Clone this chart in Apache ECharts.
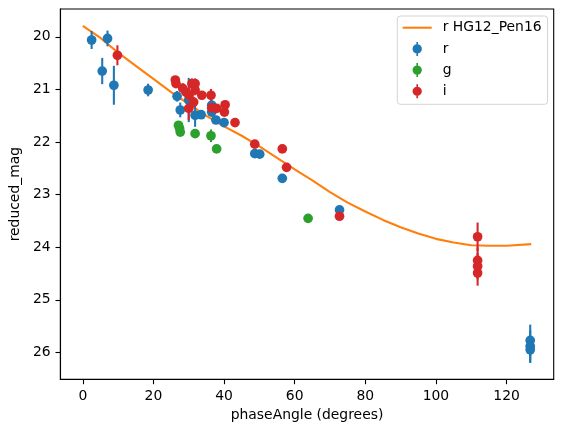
<!DOCTYPE html>
<html>
<head>
<meta charset="utf-8">
<script src="https://cdn.jsdelivr.net/npm/echarts@6/dist/echarts.min.js"></script>
<style>
html,body{margin:0;padding:0;background:#fff;}
#chart{width:563px;height:432px;}
</style>
</head>
<body>
<div id="chart"></div>
<script>
// ---- data ----
const xTicks = [0, 20, 40, 60, 80, 100, 120];
const yTicks = [20, 21, 22, 23, 24, 25, 26];

// model curve "r HG12_Pen16"
const curvePhase = [0, 5, 10, 15, 20, 25, 30, 35, 40, 45, 50, 55, 60, 65, 70, 75, 80, 85, 90, 95, 100, 105, 110, 115, 120, 127];
const curveMag   = [19.79, 20.02, 20.30, 20.55, 20.80, 21.05, 21.28, 21.50, 21.70, 21.88, 22.08, 22.30, 22.52, 22.73, 22.95, 23.15, 23.32, 23.48, 23.62, 23.74, 23.84, 23.91, 23.96, 23.97, 23.97, 23.94];

// r band
const rPhase = [2.5, 5.5, 7.0, 8.8, 18.5, 26.7, 27.6, 30.0, 31.8, 33.5, 36.5, 36.5, 37.7, 40.0, 48.7, 50.1, 56.5, 72.7, 126.7, 126.7, 126.7];
const rMag   = [20.06, 20.65, 20.03, 20.92, 21.01, 21.13, 21.39, 21.20, 21.49, 21.48, 21.30, 21.43, 21.58, 21.63, 22.22, 22.23, 22.69, 23.29, 25.77, 25.88, 25.95];
const rErr   = [0.17, 0.25, 0.15, 0.37, 0.12, 0.10, 0.14, 0.42, 0.22, 0.05, 0.10, 0.08, 0.06, 0.06, 0.05, 0.05, 0.05, 0.05, 0.30, 0.30, 0.25];

// g band
const gPhase = [27.1, 27.4, 27.6, 31.8, 36.3, 37.9, 63.8];
const gMag   = [21.68, 21.74, 21.81, 21.84, 21.88, 22.13, 23.45];
const gErr   = [0.06, 0.06, 0.06, 0.06, 0.12, 0.05, 0.05];

// i band
const iPhase = [9.8, 26.2, 26.4, 28.3, 29.2, 30.1, 30.0, 30.9, 31.4, 31.8, 31.8, 33.7, 36.3, 36.5, 37.9, 40.1, 40.3, 43.1, 48.7, 56.5, 57.7, 72.7, 111.8, 111.8, 111.8, 111.8];
const iMag   = [20.35, 20.82, 20.89, 20.98, 21.05, 21.11, 21.36, 20.89, 21.24, 20.89, 21.01, 21.11, 21.11, 21.35, 21.36, 21.43, 21.29, 21.63, 22.04, 22.13, 22.48, 23.41, 23.80, 24.25, 24.36, 24.49];
const iErr   = [0.19, 0.06, 0.06, 0.10, 0.10, 0.15, 0.22, 0.10, 0.10, 0.10, 0.10, 0.08, 0.12, 0.05, 0.05, 0.05, 0.05, 0.05, 0.05, 0.05, 0.05, 0.05, 0.27, 0.25, 0.25, 0.24];

// ---- build ----
const C = {orange:'#ff7f0e', blue:'#1f77b4', green:'#2ca02c', red:'#d62728'};
const FONT = 'DejaVu Sans';
const LW = 2.08;

function zip3(a, b, c) { return a.map((v, k) => [v, b[k], c[k]]); }

function errSeries(name, color, data) {
  return {
    name: name, type: 'custom', data: data, encode: {x: 0, y: 1}, z: 2,
    silent: true,
    renderItem: function (params, api) {
      const x = api.value(0), y = api.value(1), e = api.value(2);
      const p1 = api.coord([x, y - e]);
      const p2 = api.coord([x, y + e]);
      return {type: 'line', shape: {x1: p1[0], y1: p1[1], x2: p2[0], y2: p2[1]},
              style: {stroke: color, lineWidth: LW}};
    }
  };
}
function ptSeries(name, color, data) {
  return {
    name: name, type: 'scatter', data: data, encode: {x: 0, y: 1}, z: 2,
    symbol: 'circle', symbolSize: 9.7, itemStyle: {color: color, opacity: 1}
  };
}

const curveData = curvePhase.map((v, k) => [v, curveMag[k]]);
const rData = zip3(rPhase, rMag, rErr);
const gData = zip3(gPhase, gMag, gErr);
const iData = zip3(iPhase, iMag, iErr);

const errIcon = 'path://M4.3,0h1.4v12h-1.4z M1,6a4,4 0 1,1 8,0a4,4 0 1,1 -8,0z';
const lineIcon = 'path://M0,0h29v2.08h-29z';

const axisText = {color: '#000', fontFamily: FONT, fontSize: 13.9};

const option = {
  animation: false,
  backgroundColor: '#fff',
  textStyle: {fontFamily: FONT},
  grid: {left: 57.3, right: 9.3, top: 9, bottom: 52.7, show: true,
         borderColor: '#000', borderWidth: 1.1, backgroundColor: 'transparent'},
  legend: {
    orient: 'vertical', left: 397.3, top: 16,
    padding: [4.7, 6, 6, 5.4],
    itemWidth: 29, itemHeight: 14, itemGap: 7.2,
    borderColor: '#d4d4d4', borderWidth: 1, borderRadius: 3,
    backgroundColor: 'rgba(255,255,255,0.8)',
    textStyle: {color: '#000', fontFamily: FONT, fontSize: 13.9, padding: [0, 0, 0, 6]},
    data: [
      {name: 'r HG12_Pen16', icon: lineIcon, itemStyle: {color: C.orange}},
      {name: 'r', icon: errIcon, itemStyle: {color: C.blue}},
      {name: 'g', icon: errIcon, itemStyle: {color: C.green}},
      {name: 'i', icon: errIcon, itemStyle: {color: C.red}}
    ]
  },
  xAxis: {
    type: 'value', min: -6.35, max: 133.35,
    name: 'phaseAngle (degrees)', nameLocation: 'middle', nameGap: 29,
    nameTextStyle: axisText,
    axisLine: {show: true, onZero: false, lineStyle: {color: '#000', width: 1.1}},
    axisTick: {show: true, length: 4.9, lineStyle: {color: '#000', width: 1.1}, customValues: xTicks},
    axisLabel: {margin: 9.8, ...axisText, customValues: xTicks},
    splitLine: {show: false}
  },
  yAxis: {
    type: 'value', inverse: true, min: 19.47, max: 26.51,
    name: 'reduced_mag', nameLocation: 'middle', nameGap: 27.5, nameRotate: 90,
    nameTextStyle: axisText,
    axisLine: {show: true, onZero: false, lineStyle: {color: '#000', width: 1.1}},
    axisTick: {show: true, length: 4.9, lineStyle: {color: '#000', width: 1.1}, customValues: yTicks},
    axisLabel: {margin: 9.8, ...axisText, customValues: yTicks},
    splitLine: {show: false}
  },
  series: [
    {name: 'r HG12_Pen16', type: 'line', data: curveData, symbol: 'none', showSymbol: false,
     lineStyle: {color: C.orange, width: LW}, itemStyle: {color: C.orange}, z: 1, silent: true},
    errSeries('r', C.blue, rData), ptSeries('r', C.blue, rData),
    errSeries('g', C.green, gData), ptSeries('g', C.green, gData),
    errSeries('i', C.red, iData), ptSeries('i', C.red, iData)
  ]
};

const chart = echarts.init(document.getElementById('chart'), null, {renderer: 'canvas'});
chart.setOption(option);
</script>
</body>
</html>
